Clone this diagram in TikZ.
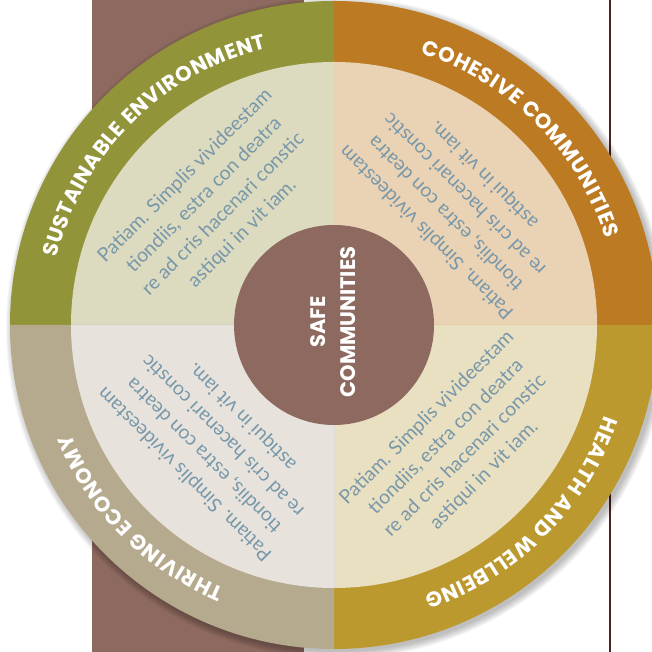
\documentclass[tikz,border=0pt]{standalone}
\usepackage{fontspec}
\setmainfont{Poppins}
\newfontfamily\bodyfont{Lato}
\usepackage{tikz}
\usetikzlibrary{calc}
\usetikzlibrary{decorations.text}

\definecolor{bandbrown}{HTML}{8D695F}
\definecolor{rulebrown}{HTML}{4A2423}
\definecolor{sustgreen}{HTML}{919438}
\definecolor{sustlight}{HTML}{DCDABF}
\definecolor{cohorange}{HTML}{BC7A22}
\definecolor{cohlight}{HTML}{EAD2B4}
\definecolor{healthgold}{HTML}{BB992F}
\definecolor{healthlight}{HTML}{E9DFC1}
\definecolor{thrivtaupe}{HTML}{B6AA8E}
\definecolor{thrivlight}{HTML}{E7E3DC}
\definecolor{bodyblue}{HTML}{7898AA}

\newcommand{\labelfont}{\bfseries\fontsize{21}{24}\selectfont}

\tikzset{
    bodytext/.style={align=center, text=bodyblue, inner sep=0pt,
        font=\bodyfont\fontsize{19.5}{27}\selectfont},
    ringlabel/.style={font=\labelfont, decorate, decoration={text effects along path, text={#1}, text align=center,
        text effects/.cd, text along path,
        character widths={inner xsep=0.3pt, font=\labelfont},
        characters={text=white, font=\labelfont}}}
}

\begin{document}
\begin{tikzpicture}[x=1pt, y=1pt]
    \useasboundingbox (0,0) rectangle (652,652);
    \coordinate (o) at (334,327);

    % Backdrop
    \fill[bandbrown] (92,0) rectangle (304,652);
    \draw[rulebrown, line width=2pt] (610,0) -- (610,652);

    % Soft shadow
    \foreach \i in {1,...,8}
        \fill[black, opacity=0.035] ($(o)+(3,-3)$) circle[radius=323+\i];

    % Quadrants
    \foreach \a/\outer/\inner in {90/sustgreen/sustlight, 0/cohorange/cohlight,
                                  -90/healthgold/healthlight, 180/thrivtaupe/thrivlight}{
        \fill[\outer] (o) -- ($(o)+(\a:324)$) arc[start angle=\a, end angle=\a+90, radius=324] -- cycle;
        \fill[\inner] (o) -- ($(o)+(\a:263)$) arc[start angle=\a, end angle=\a+90, radius=263] -- cycle;
        \draw[black!12, line width=0.8pt] (o) -- ($(o)+(\a:263)$);
    }

    % Ring labels
    \path[ringlabel=SUSTAINABLE ENVIRONMENT] ($(o)+(195:285)$) arc[start angle=195, end angle=75, radius=285];
    \path[ringlabel=COHESIVE COMMUNITIES] ($(o)+(105:285)$) arc[start angle=105, end angle=-15, radius=285];
    \path[ringlabel=HEALTH AND WELLBEING] ($(o)+(15:285)$) arc[start angle=15, end angle=-105, radius=285];
    \path[ringlabel=THRIVING ECONOMY] ($(o)+(-75:285)$) arc[start angle=-75, end angle=-195, radius=285];

    % Quadrant texts
    \node[bodytext, rotate=45] (sustbody) at ($(o)+(135:170)$) {Patiam. Simplis vivideestam\\tiondiis, estra con deatra\\re ad cris hacenari constic\\astiqui in vit iam.};
    \node[bodytext, rotate=135] (cohbody) at ($(o)+(45:172)$) {Patiam. Simplis vivideestam\\tiondiis, estra con deatra\\re ad cris hacenari constic\\astiqui in vit iam.};
    \node[bodytext, rotate=45] (healthbody) at ($(o)+(-45:172)$) {Patiam. Simplis vivideestam\\tiondiis, estra con deatra\\re ad cris hacenari constic\\astiqui in vit iam.};
    \node[bodytext, rotate=135] (thrivbody) at ($(o)+(-135:170)$) {Patiam. Simplis vivideestam\\tiondiis, estra con deatra\\re ad cris hacenari constic\\astiqui in vit iam.};

    % Hub
    \node[circle, fill=bandbrown, minimum size=200pt, inner sep=0pt] (hub) at (o) {};
    \node[rotate=90, align=center, text=white, font=\bfseries\fontsize{21}{30}\selectfont] (safe) at ($(o)+(-1,3)$) {SAFE\\COMMUNITIES};
\end{tikzpicture}
\end{document}
